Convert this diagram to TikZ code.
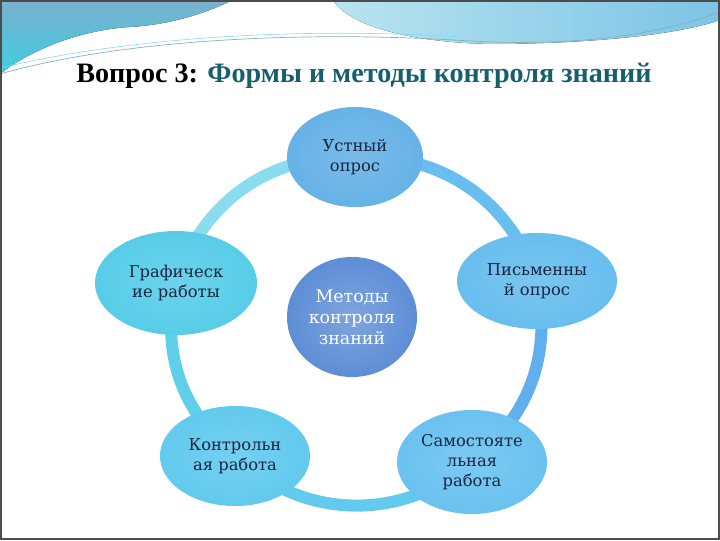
\documentclass[tikz,border=0pt]{standalone}
\usepackage{fontspec}
\setmainfont{DejaVu Serif}
\newfontfamily\titlefont{Liberation Serif}
\usetikzlibrary{shapes.geometric}

\definecolor{bandsteel}{HTML}{7BB0CF}
\definecolor{bandcyan}{HTML}{3FCDE0}
\definecolor{bandlight}{HTML}{B8E4F0}
\definecolor{bandsky}{HTML}{7CC4E6}
\definecolor{titleteal}{HTML}{16606E}
\definecolor{textnavy}{HTML}{1C2440}
\definecolor{oralblue}{HTML}{66B2E6}
\definecolor{graphcyan}{HTML}{58CDE8}
\definecolor{writeblue}{HTML}{68BEEE}
\definecolor{testcyan}{HTML}{62CAEE}
\definecolor{selfblue}{HTML}{6AC2F0}
\definecolor{methblue}{HTML}{5E8ED6}

\begin{document}
\begin{tikzpicture}[x=0.025cm, y=0.025cm,
    oval/.style={ellipse, inner sep=0pt, align=center, text=textnavy,
      font=\fontsize{11.6}{14.2}\selectfont},
    ring/.style={line width=0.3cm}]
  \useasboundingbox (0,0) rectangle (720,540);

  % top band of the slide
  \fill[top color=bandsteel, bottom color=bandcyan] (0,540) -- (233,540)
    .. controls (200,524) and (165,515) .. (130,513)
    .. controls (80,510) and (30,490) .. (0,466) -- cycle; % left part
  \fill[left color=bandlight, right color=bandsky] (333,540) -- (720,540) -- (720,520)
    .. controls (680,506) and (600,497) .. (500,496)
    .. controls (420,496) and (350,512) .. (333,540) -- cycle; % right part
  \draw[titleteal!50, line width=0.5pt] (0,466) .. controls (120,500) and (300,510) .. (470,499)
    .. controls (580,493) and (660,506) .. (720,528); % thin wave
  \draw[bandcyan!70, line width=0.4pt] (0,472) .. controls (130,503) and (300,513) .. (460,503); % thin wave

  % title
  \node (title) at (364,464) {\titlefont\bfseries\fontsize{20}{24}\selectfont
    Вопрос 3: \textcolor{titleteal}{Формы и методы контроля знаний}};

  % places of the nodes on the ring
  \coordinate (pOral) at (355,383);
  \coordinate (pGraph) at (176,257);
  \coordinate (pTest) at (235,84);
  \coordinate (pSelf) at (472,78);
  \coordinate (pWrite) at (537,259);

  % ring between the nodes
  \draw[ring, color=graphcyan!70!white] (pOral) to[bend right=37] (pGraph);
  \draw[ring, color=graphcyan!95!white] (pGraph) to[bend right=31] (pTest);
  \draw[ring, color=testcyan] (pTest) to[bend right=42] (pSelf);
  \draw[ring, color=writeblue!92!blue] (pSelf) to[bend right=31] (pWrite);
  \draw[ring, color=writeblue] (pWrite) to[bend right=37] (pOral);

  % nodes
  \node[oval, shade, inner color=oralblue!88!white, outer color=oralblue,
    minimum width=3.4cm, minimum height=2.5cm] (oral) at (pOral) {Устный\\опрос};
  \node[oval, shade, inner color=graphcyan!88!white, outer color=graphcyan,
    minimum width=4.05cm, minimum height=2.6cm] (graph) at (pGraph) {Графическ\\ие работы};
  \node[oval, shade, inner color=writeblue!88!white, outer color=writeblue,
    minimum width=4cm, minimum height=2.4cm] (write) at (pWrite) {Письменны\\й опрос};
  \node[oval, shade, inner color=testcyan!88!white, outer color=testcyan,
    minimum width=3.75cm, minimum height=2.5cm] (test) at (pTest) {Контрольн\\ая работа};
  \node[oval, shade, inner color=selfblue!88!white, outer color=selfblue,
    minimum width=3.75cm, minimum height=2.6cm] (self) at (pSelf) {Самостояте\\льная\\работа};
  \node[oval, shade, inner color=methblue!80!white, outer color=methblue,
    minimum width=3.25cm, minimum height=3cm, text=white,
    font=\fontsize{12.4}{15}\selectfont] (meth) at (352,223) {Методы\\контроля\\знаний};

  % frame of the slide
  \draw[black!70, line width=1.4pt] (1,1) rectangle (719,539);
\end{tikzpicture}
\end{document}
